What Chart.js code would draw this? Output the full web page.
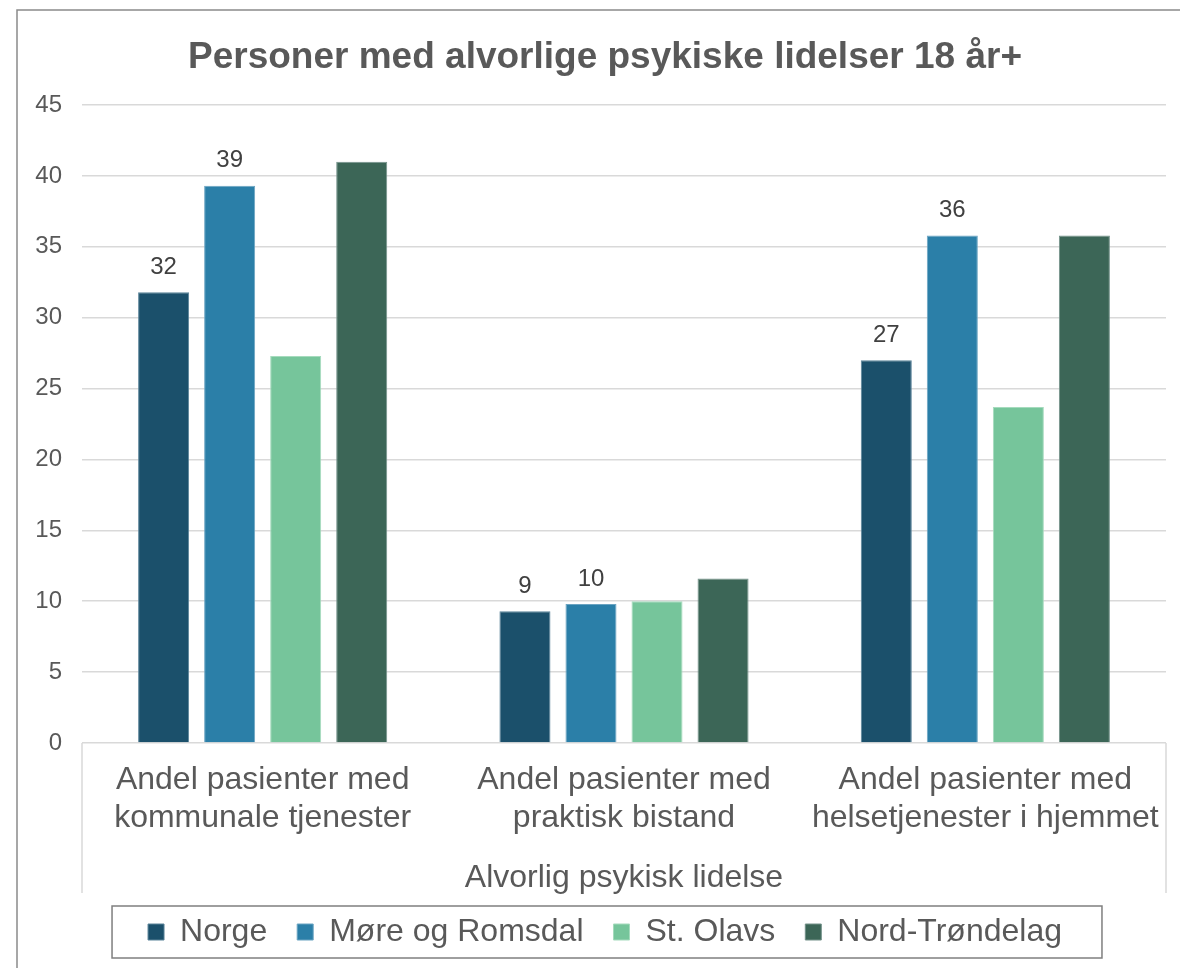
<!DOCTYPE html>
<html lang="no">
<head>
<meta charset="UTF-8">
<title>Personer med alvorlige psykiske lidelser 18 år+</title>
<script src="https://cdn.jsdelivr.net/npm/chart.js"></script>
<style>
  html, body { margin: 0; padding: 0; background: #fff; overflow: hidden; }
  .wrap { width: 1180px; height: 968px; position: relative; }
</style>
</head>
<body>
<div class="wrap"><canvas id="chart"></canvas></div>
<script>
const title = 'Personer med alvorlige psykiske lidelser 18 år+';
const groupLabel = 'Alvorlig psykisk lidelse';
const categories = [
  ['Andel pasienter med', 'kommunale tjenester'],
  ['Andel pasienter med', 'praktisk bistand'],
  ['Andel pasienter med', 'helsetjenester i hjemmet']
];
const seriesNames = ['Norge', 'Møre og Romsdal', 'St. Olavs', 'Nord-Trøndelag'];
const norge = [31.8, 9.3, 27.0];
const moreRomsdal = [39.3, 9.8, 35.8];
const stOlavs = [27.3, 10.0, 23.7];
const nordTrondelag = [41.0, 11.6, 35.8];
const yTicks = [0, 5, 10, 15, 20, 25, 30, 35, 40, 45];

const colors = ['#1b506b', '#2b7fa8', '#76c59b', '#3c6657'];
const edges = ['#5a8399', '#6ba4c2', '#a5dbbd', '#74928a'];
const labelled = [true, true, false, false];
const font = "'Liberation Sans', Arial, sans-serif";

const extras = {
  id: 'extras',
  afterDraw(chart) {
    const { ctx, chartArea } = chart;
    ctx.save();
    // outer frame
    ctx.strokeStyle = '#8a8a8a';
    ctx.lineWidth = 1.5;
    ctx.strokeRect(17, 10, 1250, 1050);

    // category axis side lines
    ctx.strokeStyle = '#d9d9d9';
    ctx.lineWidth = 1.5;
    ctx.beginPath();
    ctx.moveTo(chartArea.left, chartArea.bottom);
    ctx.lineTo(chartArea.left, chartArea.bottom + 150);
    ctx.moveTo(chartArea.right, chartArea.bottom);
    ctx.lineTo(chartArea.right, chartArea.bottom + 150);
    ctx.stroke();

    // value labels
    ctx.fillStyle = '#404040';
    ctx.font = '24px ' + font;
    ctx.textAlign = 'center';
    ctx.textBaseline = 'middle';
    chart.data.datasets.forEach((ds, i) => {
      if (!labelled[i]) return;
      chart.getDatasetMeta(i).data.forEach((bar, j) => {
        ctx.fillText(Math.round(ds.data[j]), bar.x, bar.y - 25);
      });
    });

    // legend frame
    const boxes = chart.legend.legendHitBoxes;
    if (boxes && boxes.length) {
      const l = Math.min(...boxes.map(b => b.left));
      const r = Math.max(...boxes.map(b => b.left + b.width));
      const cy = boxes[0].top + boxes[0].height / 2;
      ctx.strokeStyle = '#7f7f7f';
      ctx.lineWidth = 1.5;
      ctx.strokeRect(l - 36, cy - 26, (r - l) + 76, 52);
    }
    ctx.restore();
  }
};

const seriesData = [norge, moreRomsdal, stOlavs, nordTrondelag];

new Chart(document.getElementById('chart'), {
  type: 'bar',
  data: {
    labels: categories,
    datasets: seriesNames.map((name, i) => ({
      label: name,
      data: seriesData[i],
      backgroundColor: colors[i],
      borderColor: edges[i],
      borderWidth: 1,
      categoryPercentage: 0.731,
      barPercentage: 0.773
    }))
  },
  options: {
    responsive: true,
    maintainAspectRatio: false,
    animation: false,
    layout: { padding: { left: 30, right: 0, top: 0, bottom: 10 } },
    plugins: {
      title: {
        display: true,
        text: title,
        color: '#595959',
        font: { family: font, size: 37, weight: 'bold' },
        padding: { top: 36, bottom: 24.6 }
      },
      legend: {
        position: 'bottom',
        labels: {
          color: '#595959',
          font: { family: font, size: 32 },
          boxWidth: 16,
          boxHeight: 16,
          padding: 30
        }
      },
      tooltip: { enabled: false }
    },
    scales: {
      y: {
        min: 0,
        max: 45,
        afterFit(s) { s.width = 52; },
        afterBuildTicks(s) { s.ticks = yTicks.map(v => ({ value: v })); },
        grid: { color: '#d9d9d9', lineWidth: 1.5, drawTicks: false },
        border: { display: false },
        ticks: { color: '#595959', font: { family: font, size: 24 }, padding: 20 }
      },
      yRight: {
        position: 'right',
        display: true,
        afterFit(s) { s.width = 14; },
        grid: { display: false, drawTicks: false },
        border: { display: false },
        ticks: { display: false }
      },
      x: {
        afterFit(s) { s.height = 143; },
        grid: { display: false, drawTicks: false },
        border: { display: false },
        ticks: {
          color: '#595959',
          font: { family: font, size: 32, lineHeight: 1.2 },
          padding: 18,
          maxRotation: 0,
          autoSkip: false
        },
        title: {
          display: true,
          text: groupLabel,
          color: '#595959',
          font: { family: font, size: 32 },
          padding: { top: 0, bottom: -11 }
        }
      }
    }
  },
  plugins: [extras]
});
</script>
</body>
</html>
